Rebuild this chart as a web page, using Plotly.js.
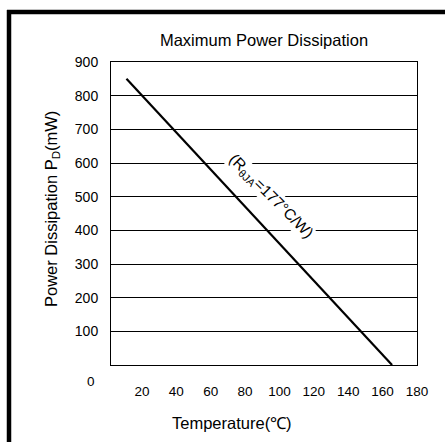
<!DOCTYPE html>
<html>
<head>
<meta charset="utf-8">
<script src="https://cdn.plot.ly/plotly-3.0.1.min.js"></script>
<style>
html,body{margin:0;padding:0;background:#fff;}
#chart{width:445px;height:442px;}
</style>
</head>
<body>
<div id="chart"></div>
<script>
// Data
const temperature = [11, 165.5];          // °C
const powerDissipation = [850, 0];        // mW
const xTickVals = [20, 40, 60, 80, 100, 120, 140, 160, 180];
const xTickText = ['20', '40', '60', '80', '100', '120', '140', '160', '180'];
const yTickVals = [100, 200, 300, 400, 500, 600, 700, 800, 900];
const yTickText = ['100', '200', '300', '400', '500', '600', '700', '800', '900'];
const zeroLabel = '0';
const chartTitle = 'Maximum Power Dissipation';
const xTitle = 'Temperature(℃)';
const yTitle = 'Power Dissipation P<sub>D</sub>(mW)';
const lineLabel = '(R<sub>θJA</sub>=177°C/W)';

const font = 'Liberation Sans, Arial, sans-serif';

const px = v => (v - 111) / 306;
const py = v => (365 - v) / 303;

const trace = {
  x: temperature,
  y: powerDissipation,
  mode: 'lines',
  line: {color: '#000', width: 2.2},
  hoverinfo: 'skip',
  showlegend: false,
  cliponaxis: false
};

const layout = {
  width: 445,
  height: 442,
  margin: {l: 111, r: 28, t: 62, b: 77},
  paper_bgcolor: '#fff',
  plot_bgcolor: '#fff',
  font: {family: font, color: '#000', size: 13.5},
  title: {
    text: chartTitle,
    font: {family: font, size: 16.5, color: '#000'},
    x: 264 / 445, xanchor: 'center',
    y: 1 - 40 / 442, yanchor: 'middle'
  },
  xaxis: {
    range: [2, 180],
    tickvals: xTickVals,
    ticktext: xTickText,
    ticks: 'outside', ticklen: 14, tickcolor: 'rgba(0,0,0,0)',
    showgrid: false, zeroline: false,
    showline: true, linecolor: '#000', linewidth: 1, mirror: true,
    tickfont: {family: font, size: 13.5, color: '#000'},
    fixedrange: true
  },
  yaxis: {
    range: [0, 900],
    tickvals: yTickVals,
    ticktext: yTickText,
    ticks: 'outside', ticklen: 9, tickcolor: 'rgba(0,0,0,0)',
    showgrid: true, gridcolor: '#000', gridwidth: 1,
    zeroline: false,
    showline: true, linecolor: '#000', linewidth: 1, mirror: true,
    tickfont: {family: font, size: 14, color: '#000'},
    fixedrange: true
  },
  annotations: [
    {
      text: lineLabel,
      x: 95, y: 500, xref: 'x', yref: 'y',
      showarrow: false, textangle: 45,
      bgcolor: '#fff', borderpad: 0,
      font: {family: font, size: 15.5, color: '#000'}
    },
    {
      text: zeroLabel,
      x: px(91), xref: 'paper', xanchor: 'center',
      y: py(381.5), yref: 'paper', yanchor: 'middle',
      showarrow: false,
      font: {family: font, size: 13.5, color: '#000'}
    },
    {
      text: xTitle,
      x: px(232), xref: 'paper', xanchor: 'center',
      y: py(423), yref: 'paper', yanchor: 'middle',
      showarrow: false,
      font: {family: font, size: 16.5, color: '#000'}
    },
    {
      text: yTitle,
      x: px(52), xref: 'paper', xanchor: 'center',
      y: py(209), yref: 'paper', yanchor: 'middle',
      showarrow: false, textangle: -90,
      font: {family: font, size: 16.5, color: '#000'}
    }
  ],
  shapes: [
    // outer frame: top bar and left bar, drawn as paths in paper coordinates
    {type: 'path', xref: 'paper', yref: 'paper', layer: 'above',
     path: 'M ' + px(7) + ' ' + py(10) + ' L ' + px(446) + ' ' + py(10) +
           ' L ' + px(446) + ' ' + py(14) + ' L ' + px(11) + ' ' + py(14) +
           ' L ' + px(11) + ' ' + py(443) + ' L ' + px(7) + ' ' + py(443) + ' Z',
     fillcolor: '#000', line: {color: '#000', width: 0.5}}
  ]
};

Plotly.newPlot('chart', [trace], layout, {displayModeBar: false, staticPlot: true}).then(function (gd) {
  // fallback: if no shape path was drawn, add an SVG frame into the plotly paper
  var svg = gd.querySelector('svg.main-svg:last-of-type') || gd.querySelector('svg.main-svg');
  if (svg) {
    var ns = 'http://www.w3.org/2000/svg';
    var p = document.createElementNS(ns, 'path');
    p.setAttribute('d', 'M7 10 H445 V14 H11 V442 H7 Z');
    p.setAttribute('fill', '#000');
    svg.appendChild(p);
  }
});
</script>
</body>
</html>
